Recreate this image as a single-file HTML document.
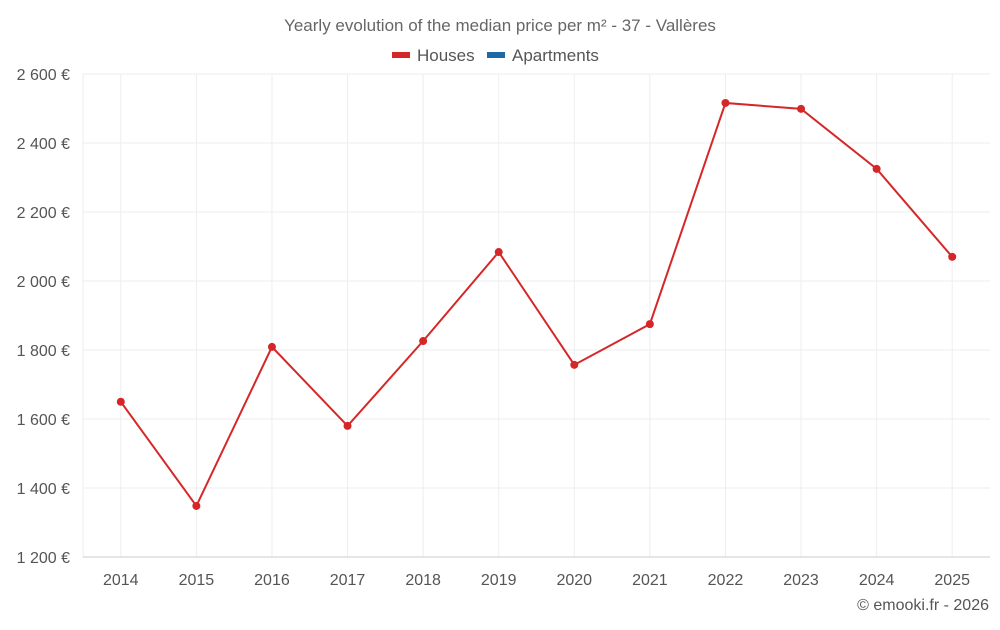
<!DOCTYPE html>
<html><head><meta charset="utf-8"><style>
body{margin:0;background:#fff;width:1000px;height:625px;overflow:hidden;font-family:"Liberation Sans",sans-serif}
</style></head><body>
<svg id="chart" width="1000" height="625" xmlns="http://www.w3.org/2000/svg" font-family="Liberation Sans, sans-serif">
<text x="500" y="31" text-anchor="middle" font-size="17" fill="#666">Yearly evolution of the median price per m² - 37 - Vallères</text>
<g><rect x="392" y="52" width="18" height="6" fill="#d62728"/><text x="417" y="61" font-size="17" fill="#555">Houses</text></g>
<g><rect x="487" y="52" width="18" height="6" fill="#1f6aa5"/><text x="512" y="61" font-size="17" fill="#555">Apartments</text></g>
<g id="grid"></g><g id="axes"></g><g id="series"></g>
<text x="989" y="610" text-anchor="end" font-size="16" fill="#555">© emooki.fr - 2026</text>
</svg>
<script>
const categories=["2014","2015","2016","2017","2018","2019","2020","2021","2022","2023","2024","2025"];
const housePrices=[1650,1348,1809,1580,1826,2084,1757,1875,2516,2499,2325,2070];
const yTicks=[1200,1400,1600,1800,2000,2200,2400,2600];
const L=83,R=990,T=74,B=557,yMin=1200,yMax=2600;
const NS="http://www.w3.org/2000/svg";
const band=(R-L)/categories.length;
function x(i){return L+band*(i+0.5);}
function y(v){return B-(v-yMin)/(yMax-yMin)*(B-T);}
function mk(tag,attrs,parent,txt){const e=document.createElementNS(NS,tag);for(const k in attrs)e.setAttribute(k,attrs[k]);if(txt!==undefined)e.textContent=txt;document.getElementById(parent).appendChild(e);return e;}
function fmt(v){return String(v).replace(/\B(?=(\d{3})+(?!\d))/g," ")+" €";}
const lb=mk("line",{x1:L,x2:L,y1:T,y2:B,stroke:"#eee"},"grid");


categories.forEach((c,i)=>{
 const g=mk("line",{x1:x(i),x2:x(i),y1:T,y2:B,stroke:"#eee"},"grid");
 
 
});
yTicks.forEach(v=>{
 const g=mk("line",{x1:L,x2:R,y1:y(v),y2:y(v),stroke:v===yMin?"#ccc":"#eee","stroke-width":1},"grid");
 
 
 const t=mk("text",{x:70,y:y(v)+6,"text-anchor":"end","font-size":16,fill:"#555"},"axes",fmt(v));
 
 
});
categories.forEach((c,i)=>{
 const t=mk("text",{x:x(i),y:585,"text-anchor":"middle","font-size":16,fill:"#555"},"axes",c);
 
 
});
const line=mk("polyline",{points:housePrices.map((v,i)=>x(i)+","+y(v)).join(" "),fill:"none",stroke:"#d62728","stroke-width":2},"series");


housePrices.forEach((v,i)=>{
 const p=mk("circle",{cx:x(i),cy:y(v),r:4,fill:"#d62728"},"series");
 
 
});
</script>
</body></html>
